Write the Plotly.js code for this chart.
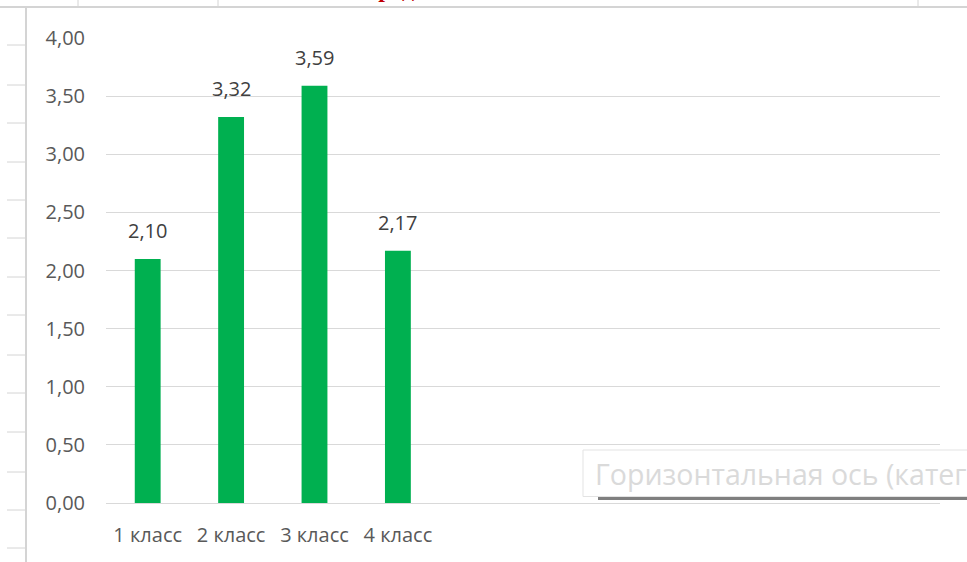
<!DOCTYPE html>
<html><head><meta charset="utf-8">
<script src="https://cdn.plot.ly/plotly-3.0.1.min.js"></script>
<style>html,body{margin:0;padding:0;background:#fff}#c{width:967px;height:562px}</style>
</head><body><div id="c"></div>
<script>
const categories = ['1 класс', '2 класс', '3 класс', '4 класс'];
const values = [2.10, 3.32, 3.59, 2.17];
const yTicks = [0, 0.5, 1, 1.5, 2, 2.5, 3, 3.5, 4];
const tooltipText = 'Горизонтальная ось (категорий)';
const titleText = 'Средний балл';

const W = 967, H = 562, L = 106, R = 27, T = 38, B = 59;
const pw = W - L - R, ph = H - T - B;
const px = p => (p - L) / pw;
const py = q => (H - B - q) / ph;

const shapes = [];
// spreadsheet frame lines
shapes.push({type:'line', xref:'paper', yref:'paper', x0:px(0), x1:px(967), y0:py(7), y1:py(7), line:{color:'#d4d4d4', width:2}});
[78, 218, 918].forEach(x => shapes.push({type:'line', xref:'paper', yref:'paper', x0:px(x), x1:px(x), y0:py(0), y1:py(7), line:{color:'#d4d4d4', width:1}}));
shapes.push({type:'line', xref:'paper', yref:'paper', x0:px(26), x1:px(26), y0:py(8), y1:py(562), line:{color:'#d4d4d4', width:2}});
[45, 85, 123, 162, 200, 238, 277, 315, 355, 393, 432, 472, 510, 548].forEach(y => shapes.push({type:'line', xref:'paper', yref:'paper', x0:px(7), x1:px(26), y0:py(y), y1:py(y), line:{color:'#d4d4d4', width:1}}));
// tooltip shadow and box
shapes.push({type:'line', xref:'paper', yref:'paper', x0:px(598), x1:px(967), y0:py(498.5), y1:py(498.5), line:{color:'#7f7f7f', width:3}});
shapes.push({type:'rect', xref:'paper', yref:'paper', x0:px(583), x1:px(980), y0:py(450), y1:py(496.5), fillcolor:'#ffffff', line:{color:'#e3e3e3', width:1}});

const annotations = categories.map((c, i) => ({
  x: c, y: values[i], xref:'x', yref:'y', text: values[i].toFixed(2).replace('.', ','),
  showarrow:false, yanchor:'bottom', yshift:13,
  font:{family:'Open Sans, sans-serif', size:20, color:'#404040'}
}));
annotations.push({xref:'paper', yref:'paper', x:px(594), y:py(474), xanchor:'left', yanchor:'middle',
  text: tooltipText, showarrow:false, borderpad:0,
  font:{family:'Open Sans, sans-serif', size:28.5, color:'#dadada'}});
annotations.push({xref:'paper', yref:'paper', x:px(359), y:py(4), xanchor:'left', yanchor:'bottom',
  text: '<b>' + titleText + '</b>', showarrow:false,
  font:{family:'Liberation Serif, serif', size:24, color:'#c00000'}});

Plotly.newPlot('c', [{
  type:'bar', x: categories, y: values, width: 0.31,
  marker:{color:'#00b050'}, hoverinfo:'none'
}], {
  width: W, height: H, margin:{l:L, r:R, t:T, b:B},
  paper_bgcolor:'#ffffff', plot_bgcolor:'#ffffff', separators:', ',
  showlegend:false,
  xaxis:{type:'category', range:[-0.5, 9.5], showgrid:false, zeroline:false,
    showline:false, ticks:'', ticklabelstandoff:18,
    tickfont:{family:'Open Sans, sans-serif', size:20, color:'#595959'}},
  yaxis:{range:[0, 4], tickvals: yTicks, tickformat:'.2f', showgrid:true, gridcolor:'#d9d9d9', gridwidth:1,
    zeroline:true, zerolinecolor:'#d9d9d9', zerolinewidth:1, showline:false, ticks:'', ticklabelstandoff:20,
    tickfont:{family:'Open Sans, sans-serif', size:20, color:'#595959'}},
  shapes: shapes, annotations: annotations
}, {displayModeBar:false, staticPlot:true});
</script></body></html>
